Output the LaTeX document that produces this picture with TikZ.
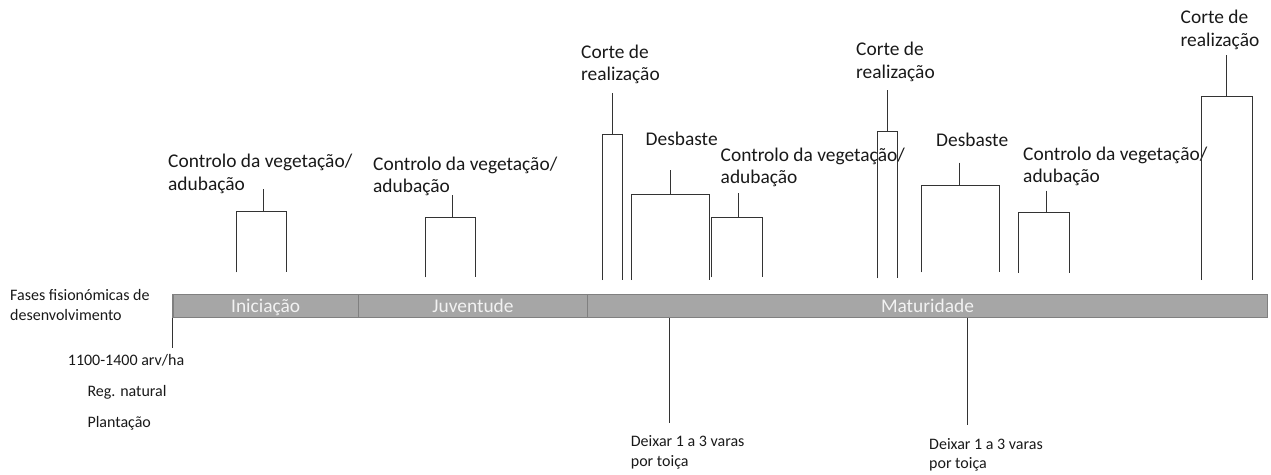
\documentclass[tikz,border=0pt]{standalone}
\usepackage{fontspec}
\setmainfont{Carlito}
\newcommand\mybracket[7]{%
  \coordinate (#1lb) at (#2,#5);
  \coordinate (#1lt) at (#2,#4);
  \coordinate (#1rt) at (#3,#4);
  \coordinate (#1rb) at (#3,#5);
  \coordinate (#1s) at (#6,#7);
  \coordinate (#1j) at (#6,#4);
  \draw[ln] (#1lb) -- (#1lt) -- (#1rt) -- (#1rb);
  \draw[ln] (#1s) -- (#1j);}
\begin{document}
\begin{tikzpicture}[x=1pt,y=-1pt,
  ln/.style={draw=black!80, line width=0.8pt},
  lbl/.style={anchor=base west, inner sep=0pt, font=\fontsize{19.4}{22.5}\selectfont, text=black!90, align=left},
  sml/.style={anchor=base west, inner sep=0pt, font=\fontsize{16}{19.5}\selectfont, text=black!90, align=left},
  phase/.style={draw=black!50, line width=1.3pt, fill=black!35, anchor=north west,
     minimum height=23.5pt, inner sep=0pt, text height=13pt, text depth=0pt,
     font=\fontsize{19.4}{22.5}\selectfont, text=black!5}]
\useasboundingbox (0,0) rectangle (1271,474);

% phase bar
\node[phase, minimum width=185.4pt] (ini) at (172.3,293.5) {Iniciação};
\node[phase, minimum width=229.3pt] (juv) at (357.7,293.5) {Juventude};
\node[phase, minimum width=679.7pt] (mat) at (587,293.5) {Maturidade};

% labels (anchor = baseline of last line)
\node[lbl] (c1) at (168,190) {Controlo da vegetação/\\adubação};
\node[lbl] (c2) at (373,192.5) {Controlo da vegetação/\\adubação};
\node[lbl] (c3) at (720.5,183.5) {Controlo da vegetação/\\adubação};
\node[lbl] (c4) at (1023,182.5) {Controlo da vegetação/\\adubação};
\node[lbl] (k1) at (581,80.5) {Corte de\\realização};
\node[lbl] (k2) at (856,78) {Corte de\\realização};
\node[lbl] (k3) at (1180.5,46) {Corte de\\realização};
\node[lbl] (d1) at (645.5,145.5) {Desbaste};
\node[lbl] (d2) at (936,146) {Desbaste};

\node[sml] (fases) at (10,320.2) {Fases fisionómicas de\\desenvolvimento};
\node[sml] (dens) at (67.7,365) {1100-1400 arv/ha};
\node[sml] (reg) at (87.3,396.7) {Reg. natural};
\node[sml] (plant) at (87.3,427.3) {Plantação};
\node[sml] (dx1) at (630.7,466.2) {Deixar 1 a 3 varas\\por toiça};
\node[sml] (dx2) at (929,468.5) {Deixar 1 a 3 varas\\por toiça};

% brackets
\mybracket{bc1}{236.7}{286}{211}{272.3}{263.7}{189}
\mybracket{bc2}{425}{475.3}{217.7}{277.3}{452.3}{195}
\mybracket{bk1}{602.3}{622.3}{134}{280}{612.3}{93.3}
\mybracket{bd1}{631.7}{709.3}{194}{280}{670}{170}
\mybracket{bc3}{711.7}{762.7}{217.3}{277.3}{738.3}{193.3}
\mybracket{bk2}{877.3}{897}{131}{278.3}{887.3}{90}
\mybracket{bd2}{921.7}{999.3}{185.7}{272.3}{959.3}{162.7}
\mybracket{bc4}{1018.7}{1069.3}{212.7}{272.7}{1046.7}{190.7}
\mybracket{bk3}{1201.7}{1252.3}{96}{280}{1226.7}{55}

% ticks below bar
\coordinate (t0) at (172.3,348);
\coordinate (t1) at (669.3,422.7);
\coordinate (t2) at (967.3,425);
\draw[ln] (ini.south west) -- (t0);
\draw[ln] (mat.south -| t1) -- (t1);
\draw[ln] (mat.south -| t2) -- (t2);
\end{tikzpicture}
\end{document}
